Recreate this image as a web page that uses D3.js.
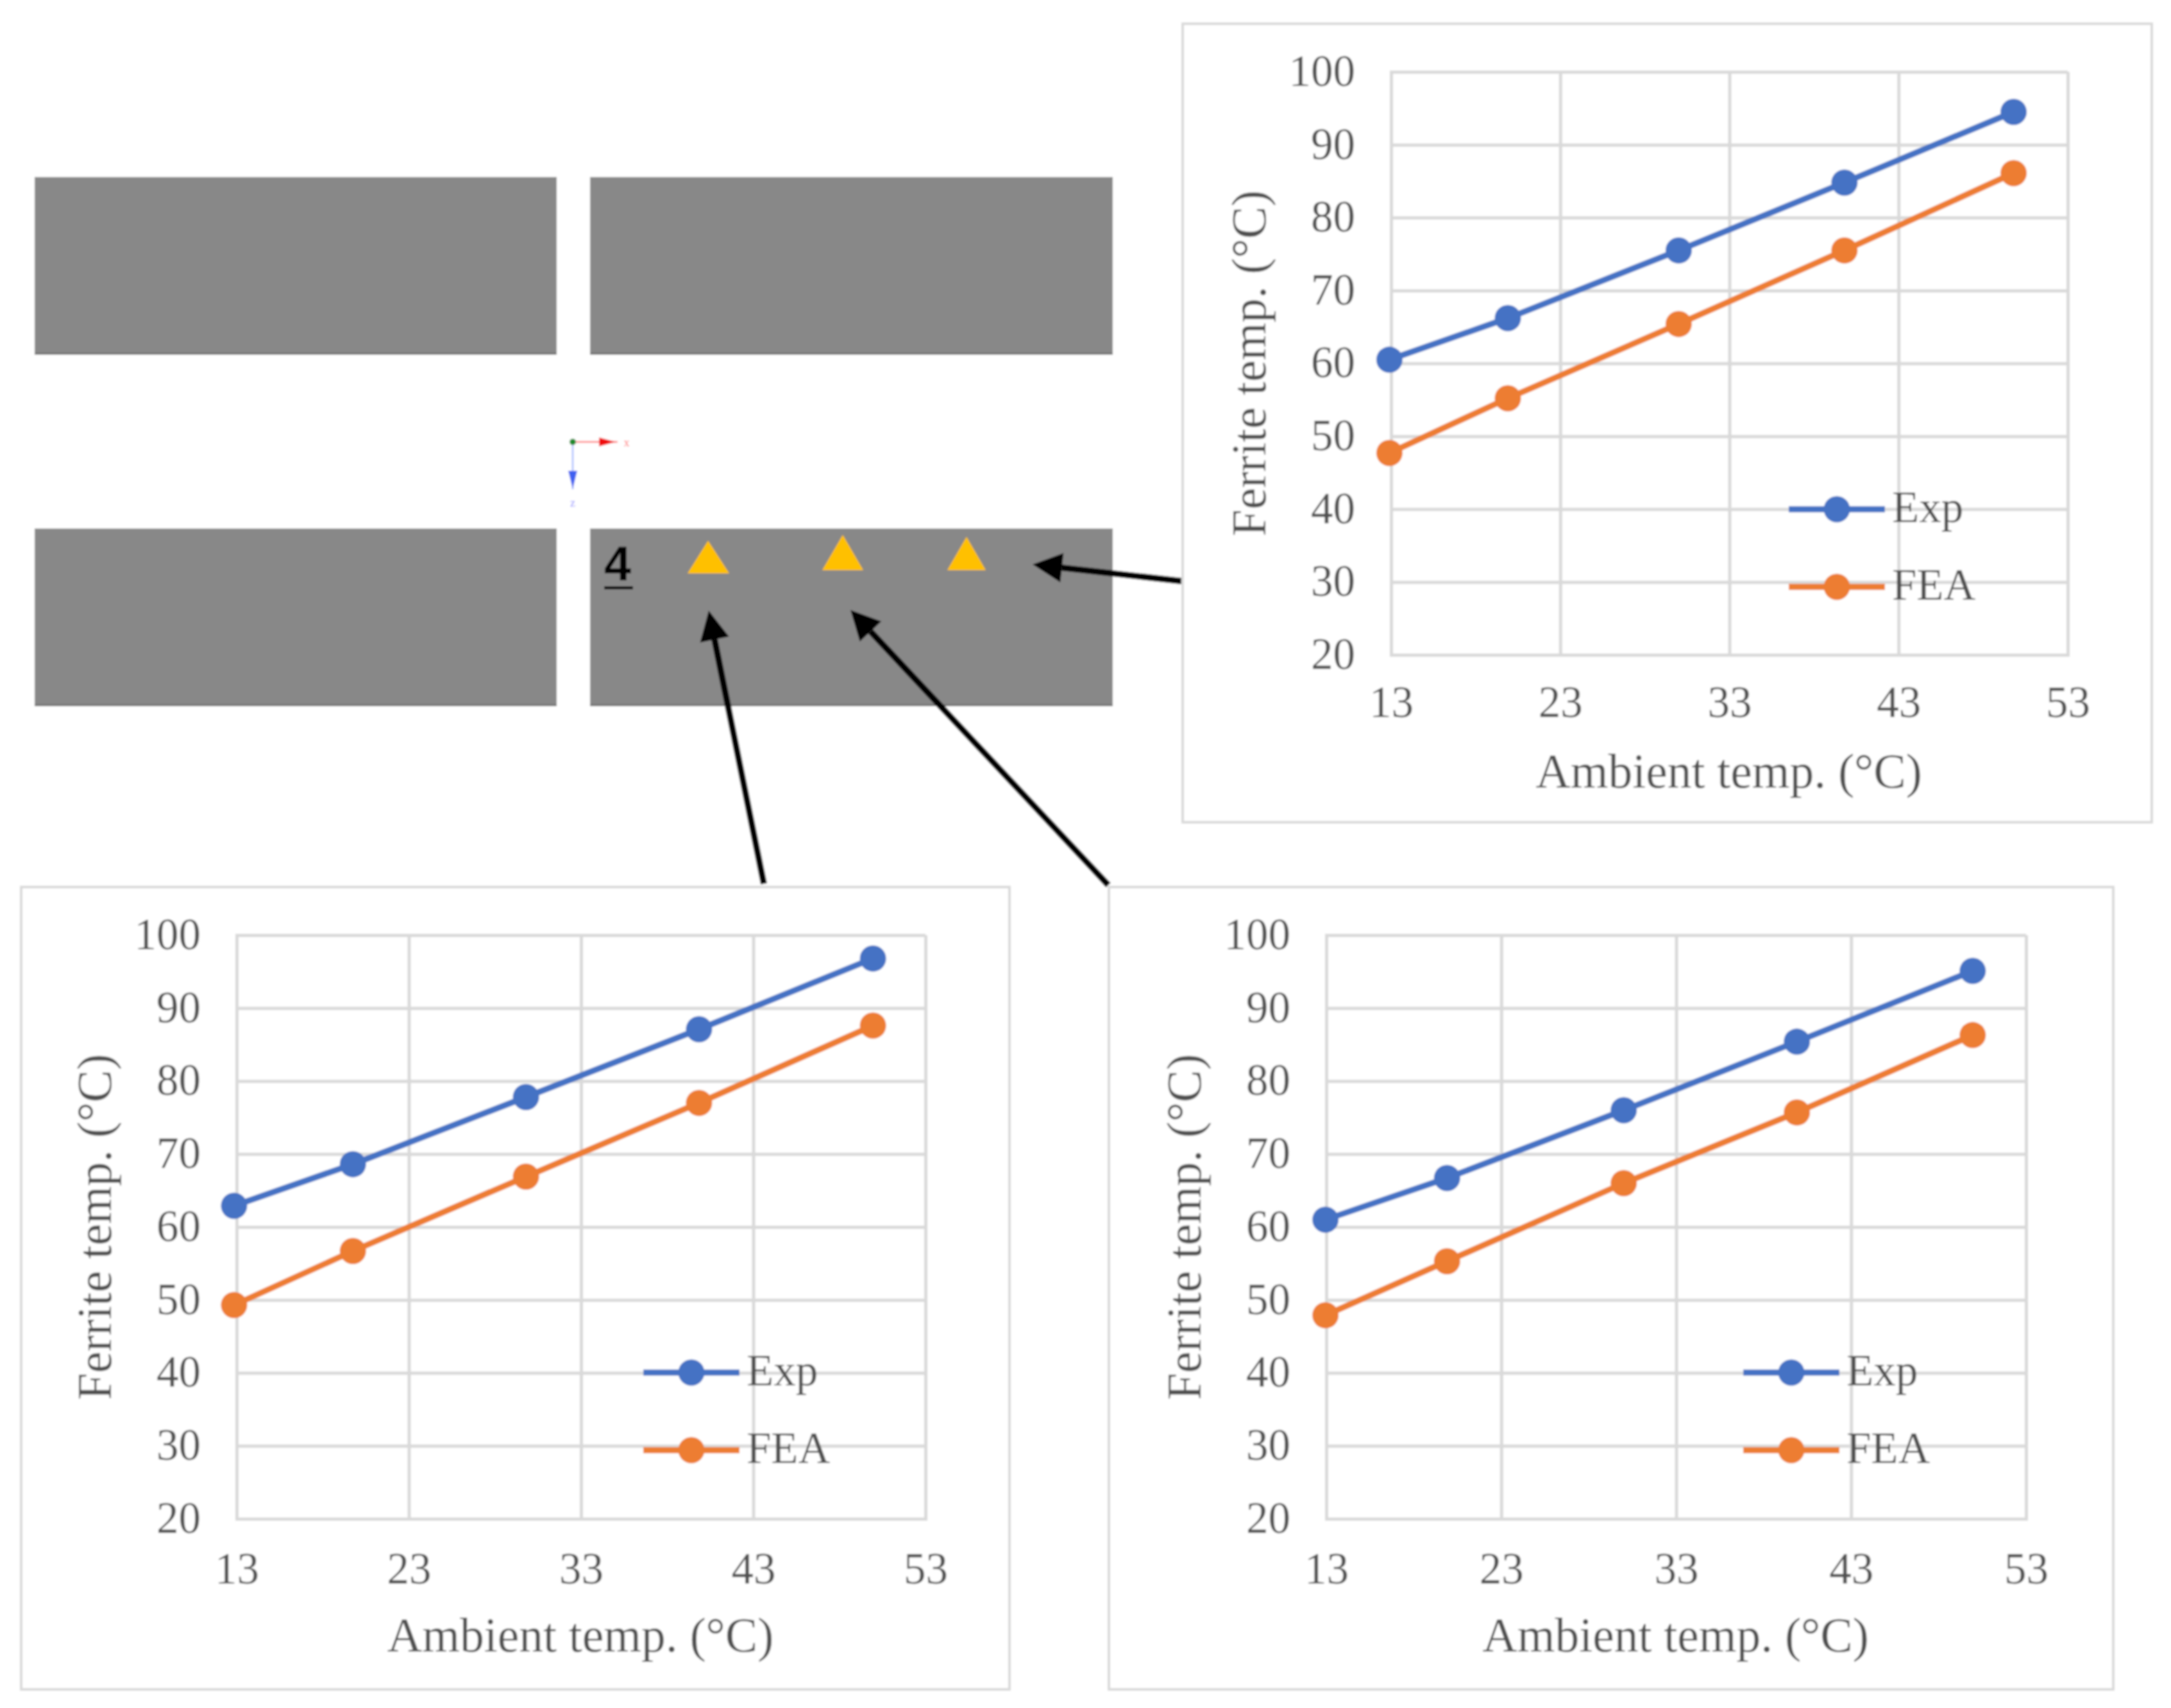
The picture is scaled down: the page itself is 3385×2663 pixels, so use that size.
<!DOCTYPE html>
<html><head><meta charset="utf-8">
<script src="https://cdn.jsdelivr.net/npm/d3@7/dist/d3.min.js"></script>
<style>
html,body{margin:0;padding:0;background:#fff}
svg{display:block}
text{font-family:"Liberation Serif","Times New Roman",serif;fill:#505050}
</style></head>
<body><svg id="c" width="3385" height="2663"></svg>
<script>
const ambientTopRight = [12.9, 19.9, 30.0, 39.8, 49.8];
const ambientBottomLeft = [12.85, 19.75, 29.8, 39.85, 49.95];
const ambientBottomRight = [12.95, 19.9, 30.0, 39.9, 49.95];
const xTickLabels = [13, 23, 33, 43, 53];
const yTickLabels = [20, 30, 40, 50, 60, 70, 80, 90, 100];
const expTopRight = [60.5, 66.2, 75.5, 84.8, 94.5];
const feaTopRight = [47.7, 55.2, 65.4, 75.5, 86.1];
const expBottomLeft = [62.9, 68.6, 77.8, 87.1, 96.8];
const feaBottomLeft = [49.3, 56.7, 66.9, 77.0, 87.6];
const expBottomRight = [61.0, 66.7, 76.0, 85.4, 95.1];
const feaBottomRight = [47.9, 55.3, 66.0, 75.7, 86.3];
const seriesNames = ["Exp", "FEA"];
const seriesColors = ["#4472C4", "#ED7D31"];

const panels = [
  {frame:[1844,37,3355,1282], plot:[2169,112,3224,1021], legendX:2789, tickY:97, amb:ambientTopRight, exp:expTopRight, fea:feaTopRight},
  {frame:[33,1383,1574,2634], plot:[369,1458,1443,2368], legendX:1003, tickY:101, amb:ambientBottomLeft, exp:expBottomLeft, fea:feaBottomLeft},
  {frame:[1729,1383,3295,2634], plot:[2068,1458,3159,2368], legendX:2718, tickY:101, amb:ambientBottomRight, exp:expBottomRight, fea:feaBottomRight}
];

const svg = d3.select("#c");
const defs = svg.append("defs");
defs.append("filter").attr("id","soft").attr("x","-5%").attr("y","-5%").attr("width","110%").attr("height","110%")
  .append("feGaussianBlur").attr("stdDeviation",1.8);
const root = svg.append("g").attr("filter","url(#soft)");
root.append("rect").attr("width",3385).attr("height",2663).attr("fill","#fff");

// schematic
const blocks = [[54,276,868,553],[920,276,1735,553],[54,824,868,1101],[920,824,1735,1101]];
root.selectAll("rect.block").data(blocks).join("rect").attr("class","block")
  .attr("x",d=>d[0]).attr("y",d=>d[1]).attr("width",d=>d[2]-d[0]).attr("height",d=>d[3]-d[1])
  .attr("fill","#888888");
root.selectAll("rect.edge").data(blocks).join("rect").attr("class","edge")
  .attr("x",d=>d[0]).attr("y",d=>d[3]-3).attr("width",d=>d[2]-d[0]).attr("height",3)
  .attr("fill","#6e6e6e");
const triangles = [[1104,843,1072,1137,894],[1314,834,1282,1346,889],[1507,837,1477,1537,889]];
root.selectAll("path.tri").data(triangles).join("path").attr("class","tri")
  .attr("d",d=>`M${d[0]},${d[1]}L${d[3]},${d[4]}L${d[2]},${d[4]}Z`).attr("fill","#FFC000");
root.append("text").attr("x",963).attr("y",905).attr("text-anchor","middle")
  .style("font-family","'Liberation Sans',sans-serif").style("font-weight","700").style("font-size","76px").style("fill","#000").text("4");
root.append("rect").attr("x",942).attr("y",914).attr("width",45).attr("height",5).attr("fill","#000");

// triad
root.append("line").attr("x1",893).attr("y1",689).attr("x2",963).attr("y2",689).attr("stroke","#ff8080").attr("stroke-width",2.5);
root.append("path").attr("d","M934,682L960,689L934,696Z").attr("fill","#f01010");
root.append("line").attr("x1",893).attr("y1",689).attr("x2",893).attr("y2",763).attr("stroke","#a8bcff").attr("stroke-width",2.5);
root.append("path").attr("d","M886,734L893,762L900,734Z").attr("fill","#4060f0");
root.append("circle").attr("cx",893).attr("cy",689).attr("r",5).attr("fill","#1a8a2a");
root.append("text").attr("x",977).attr("y",696).attr("text-anchor","middle").style("font-size","18px").style("fill","#ff7070").text("x");
root.append("text").attr("x",893).attr("y",790).attr("text-anchor","middle").style("font-size","18px").style("fill","#9090ff").text("z");

// arrows
const arrows = [[1842,906,1610,880],[1191,1378,1105,952],[1728,1380,1326,951]];
arrows.forEach(a=>{
  const ang=Math.atan2(a[3]-a[1],a[2]-a[0]), L=46, W=23;
  const bx=a[2]-L*Math.cos(ang), by=a[3]-L*Math.sin(ang);
  const nx=-Math.sin(ang), ny=Math.cos(ang);
  root.append("line").attr("x1",a[0]).attr("y1",a[1]).attr("x2",bx).attr("y2",by).attr("stroke","#000").attr("stroke-width",10);
  root.append("path").attr("d",`M${a[2]},${a[3]}L${bx+nx*W},${by+ny*W}L${bx-nx*W},${by-ny*W}Z`).attr("fill","#000");
});

panels.forEach(p=>{
  const g = root.append("g");
  g.append("rect").attr("x",p.frame[0]).attr("y",p.frame[1]).attr("width",p.frame[2]-p.frame[0]).attr("height",p.frame[3]-p.frame[1])
    .attr("fill","#fff").attr("stroke","#D9D9D9").attr("stroke-width",4);
  const [l,t,r,b]=p.plot;
  const x=d3.scaleLinear().domain([13,53]).range([l,r]);
  const y=d3.scaleLinear().domain([20,100]).range([b,t]);

  const gx=g.append("g").attr("transform",`translate(0,${b})`)
    .call(d3.axisBottom(x).tickValues(xTickLabels).tickSize(-(b-t)).tickPadding(0).tickFormat(d3.format("d")));
  const gy=g.append("g").attr("transform",`translate(${l},0)`)
    .call(d3.axisLeft(y).tickValues(yTickLabels).tickSize(-(r-l)).tickPadding(0).tickFormat(d3.format("d")));
  [gx,gy].forEach(a=>{
    a.select(".domain").attr("stroke","#D9D9D9").attr("stroke-width",5);
    a.selectAll(".tick line").attr("stroke","#D9D9D9").attr("stroke-width",5);
    a.selectAll("text").style("font-size","69px").style("font-family","'Liberation Serif',serif").attr("fill","#505050");
  });
  gx.selectAll("text").attr("y",p.tickY).attr("dy",0);
  gy.selectAll("text").attr("x",-56).attr("dy","0.31em");

  g.append("text").attr("x",(l+r)/2-1).attr("y",b+207).attr("text-anchor","middle").style("font-size","75.5px").text("Ambient temp. (°C)");
  g.append("text").attr("transform",`translate(${l-196},${(t+b)/2}) rotate(-90)`).attr("text-anchor","middle").style("font-size","75.5px").text("Ferrite temp. (°C)");

  [p.exp,p.fea].forEach((vals,i)=>{
    const rows=p.amb.map((a,j)=>[a,vals[j]]);
    g.append("path").datum(rows).attr("fill","none").attr("stroke",seriesColors[i]).attr("stroke-width",9.5)
      .attr("d",d3.line().x(d=>x(d[0])).y(d=>y(d[1])));
    g.selectAll(null).data(rows).join("circle").attr("cx",d=>x(d[0])).attr("cy",d=>y(d[1])).attr("r",20.5).attr("fill",seriesColors[i]);
  });

  seriesNames.forEach((n,i)=>{
    const ly=t+682+i*121;
    g.append("line").attr("x1",p.legendX).attr("x2",p.legendX+150).attr("y1",ly).attr("y2",ly).attr("stroke",seriesColors[i]).attr("stroke-width",9.5);
    g.append("circle").attr("cx",p.legendX+75).attr("cy",ly).attr("r",20.5).attr("fill",seriesColors[i]);
    g.append("text").attr("x",p.legendX+161).attr("y",ly+20).style("font-size","69px").text(n);
  });
});
</script></body></html>
